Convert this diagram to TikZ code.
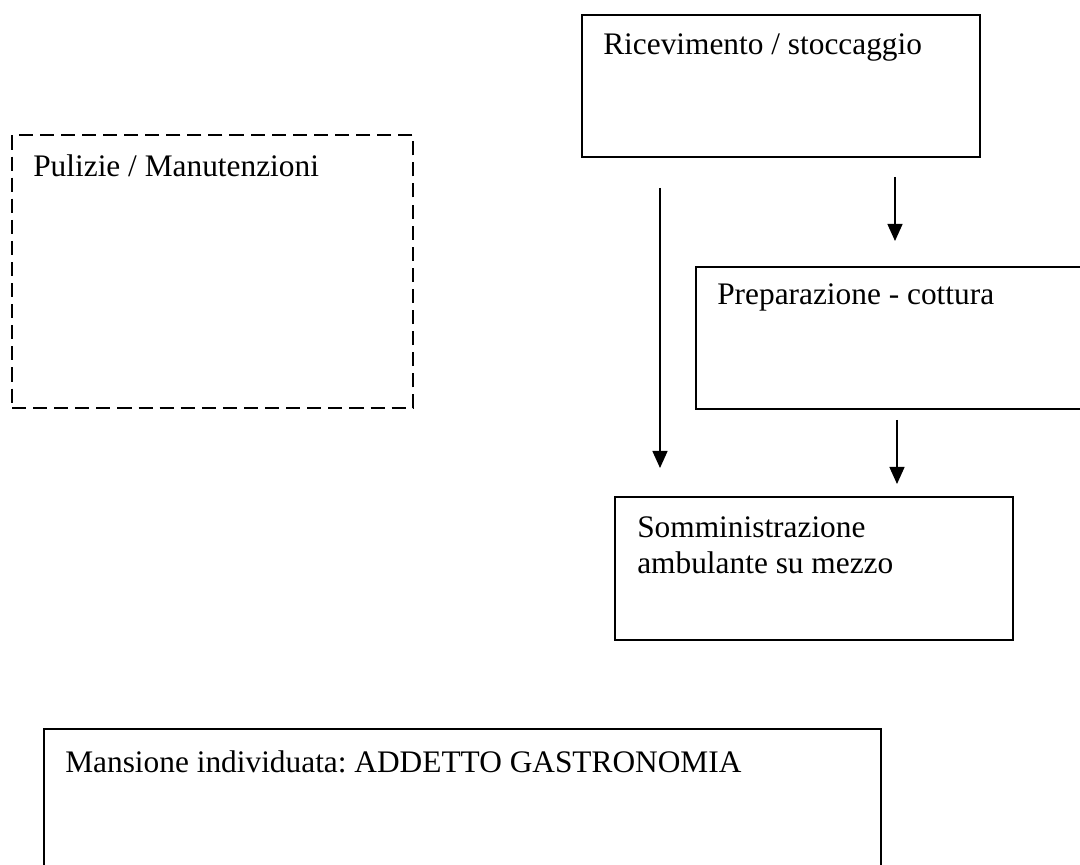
\documentclass[tikz,border=0pt]{standalone}
\usepackage{fontspec}
\setmainfont{Liberation Serif}
\usepackage{tikz}
\usetikzlibrary{calc,arrows.meta}
\usepackage{xcolor}
\frenchspacing

\begin{document}
\begin{tikzpicture}[x=0.025cm,y=-0.025cm]

		\clip (0,0) rectangle (1080,865);
		\tikzset{boite/.style={draw, line width=1.4pt, inner sep=0pt, outer sep=0pt, anchor=north west}}
		\tikzset{texte/.style={inner sep=0pt, anchor=base west, align=left, font=\fontsize{22.3pt}{25.6pt}\selectfont}}
		\tikzset{fleche/.style={line width=1pt, -{Triangle[width=0.375cm, length=0.425cm]}}}

		\node[boite, minimum width=9.95cm, minimum height=3.55cm] (R) at (582,15) {};
		\node[boite, dashed, dash pattern=on 10pt off 5pt, minimum width=10.025cm, minimum height=6.825cm] (P) at (12,135) {};
		\node[boite, minimum width=10cm, minimum height=3.55cm] (C) at (696,267) {};
		\node[boite, minimum width=9.95cm, minimum height=3.575cm] (S) at (615,497) {};
		\node[boite, minimum width=20.925cm, minimum height=3.75cm] (M) at (44,729) {};

		\node[texte] (tR) at (603,55) {Ricevimento / stoccaggio};
		\node[texte] (tP) at (33,177) {Pulizie / Manutenzioni};
		\node[texte] (tC) at (717,305) {Preparazione - cottura};
		\node[texte] (tS) at (637,573) {Somministrazione\\ambulante su mezzo};
		\node[texte] (tM) at (65,772) {Mansione individuata: ADDETTO GASTRONOMIA};

		\coordinate (a1) at (660,188);
		\coordinate (b1) at (660,468);
		\coordinate (a2) at (895,177);
		\coordinate (b2) at (895,241);
		\coordinate (a3) at (897,420);
		\coordinate (b3) at (897,484);

    \draw[fleche] (a1) -- (b1);
    \draw[fleche] (a2) -- (b2);
    \draw[fleche] (a3) -- (b3);

		\end{tikzpicture}
\end{document}
